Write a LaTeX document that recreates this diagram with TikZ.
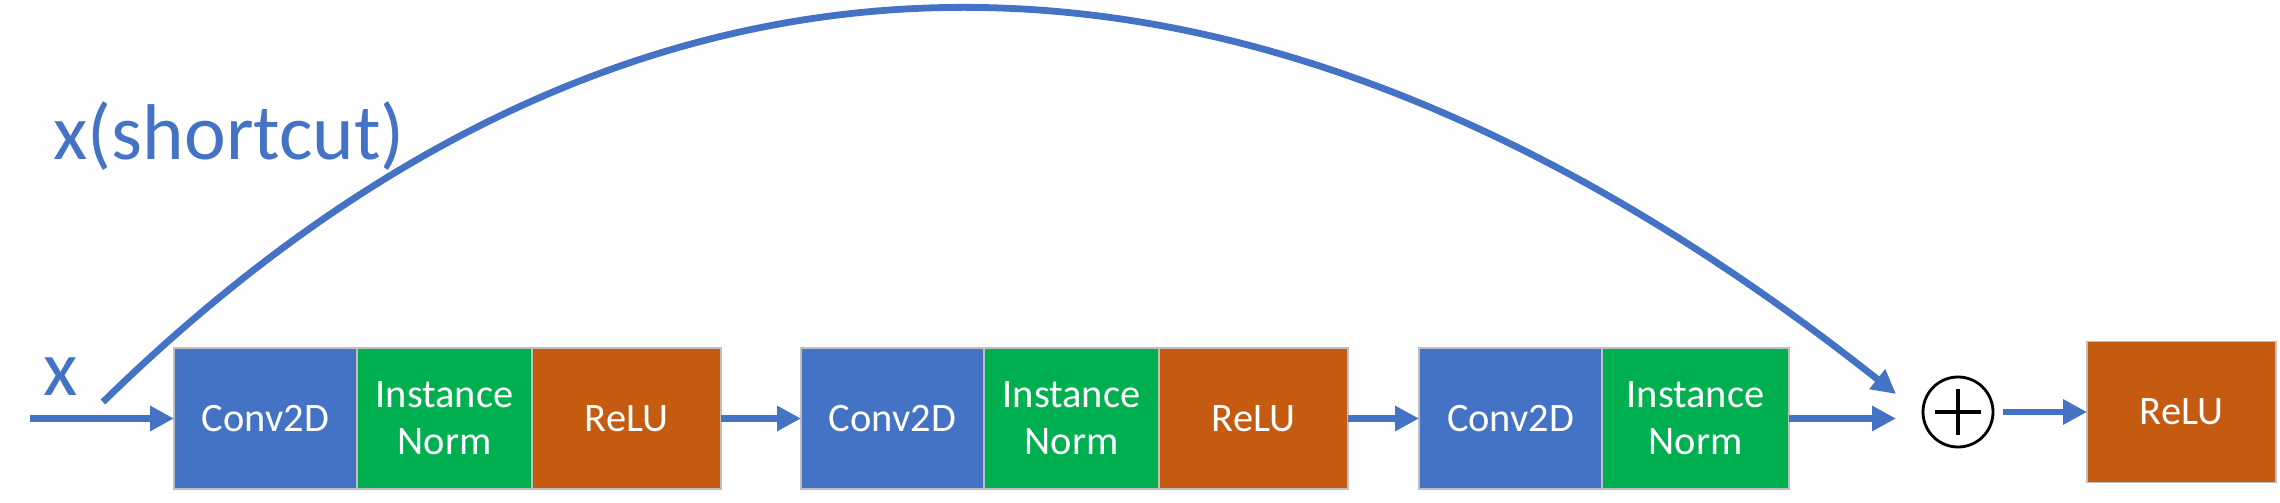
\documentclass[tikz,border=0pt]{standalone}
\usepackage{fontspec}
\setmainfont{Carlito}
\usepackage{tikz}
\usetikzlibrary{
        arrows.meta,
        positioning
    }
\definecolor{convblue}{HTML}{4472C4}
\definecolor{normgreen}{HTML}{00B050}
\definecolor{reluorange}{HTML}{C55A11}
\tikzset{>={Triangle[length=0.24cm,width=0.24cm]},line cap=round,node distance=0cm}
\tikzset{layer/.style={draw=black!25,line width=0.5pt,outer sep=0pt,inner sep=0pt,minimum height=1.41cm,text=white,align=center,font=\fontsize{11.5}{13.4}\selectfont}}
\tikzset{conv/.style={layer,fill=convblue,minimum width=1.83cm},
        norm/.style={layer,fill=normgreen,minimum width=1.75cm},
        relu/.style={layer,fill=reluorange,minimum width=1.89cm},
        flow/.style={color=convblue,line width=0.068cm},
        lbl/.style={text=convblue,inner sep=0pt,font=\fontsize{22.5}{26}\selectfont}}

\begin{document}
\begin{tikzpicture}[>={Triangle[length=0.24cm,width=0.24cm]},node distance=0cm]
                \useasboundingbox (0,0) rectangle (22.8,5.02);
                \node[conv] (c1) at (2.655,0.835) {Conv2D};
                \node[norm] (n1) [right=of c1] {Instance\\Norm};
                \node[relu] (r1) [right=of n1] {ReLU};
                \node[conv] (c2) [right=0.8cm of r1] {Conv2D};
                \node[norm] (n2) [right=of c2] {Instance\\Norm};
                \node[relu] (r2) [right=of n2] {ReLU};
                \node[conv] (c3) [right=0.71cm of r2] {Conv2D};
                \node[norm,minimum width=1.87cm] (n3) [right=of c3] {Instance\\Norm};
                \node[circle,draw=black,line width=0.8pt,minimum size=0.7cm,outer sep=0pt,
                    path picture={\draw[line width=0.9pt] (path picture bounding box.center) ++(-0.23,0) -- ++(0.46,0)
                        (path picture bounding box.center) ++(0,-0.23) -- ++(0,0.46);}] (plus) at (19.58,0.9) {};
                \node[relu] (r4) at (21.815,0.9) {ReLU};
                \node[lbl,anchor=base] (x) at (0.61,1.07) {x};
                \node[lbl,anchor=base west] (sc) at (0.53,3.43) {x(shortcut)};
                \coordinate (in) at (0.30,0.835);
                \coordinate (skip) at (1.03,1.00);
                \coordinate (add) at (18.96,1.08);
                \path[->,flow]
                    (in) edge (c1)
                    (r1) edge (c2)
                    (r2) edge (c3);
                \draw[->,flow,shorten >=0.27cm] (n3.east) -- (n3.east -| plus.west);
                \draw[->,flow,shorten <=0.1cm] (plus) -- (r4);
                \draw[->,flow] (skip) .. controls (6.4,6.25) and (12.5,6.2) .. (add);
            \end{tikzpicture}
\end{document}
